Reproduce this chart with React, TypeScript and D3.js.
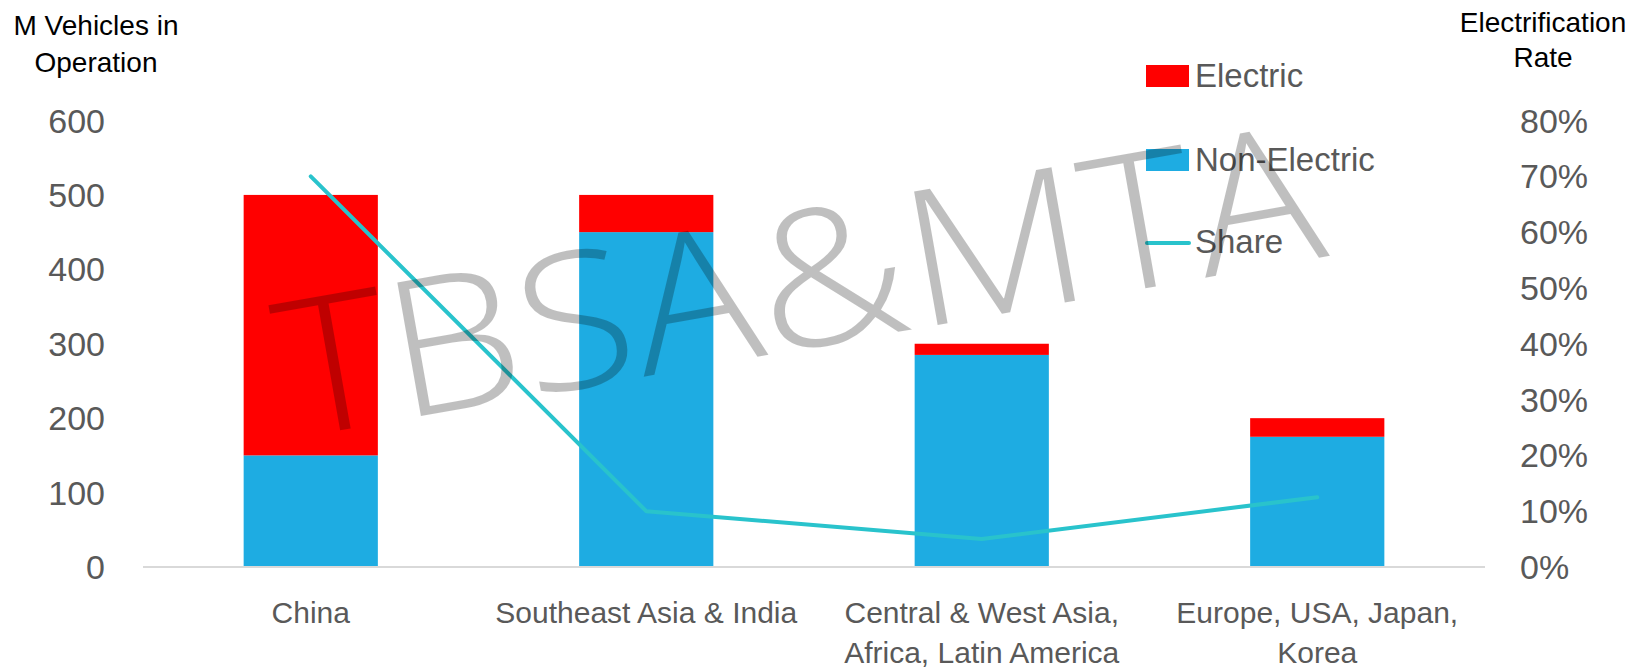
import React from 'react';
import * as d3 from 'd3';

// values
const categories = ['China', 'Southeast Asia & India', 'Central & West Asia, Africa, Latin America', 'Europe, USA, Japan, Korea'];
const categoryLines = [['China'], ['Southeast Asia & India'], ['Central & West Asia,', 'Africa, Latin America'], ['Europe, USA, Japan,', 'Korea']];
const nonElectric = [150, 450, 285, 175];
const electric = [350, 50, 15, 25];
const share = [0.70, 0.10, 0.05, 0.125];
const leftTicks = [0, 100, 200, 300, 400, 500, 600];
const rightTicks = [0, 0.1, 0.2, 0.3, 0.4, 0.5, 0.6, 0.7, 0.8];

const W = 1640;
const H = 670;
const FONT = "'Liberation Sans', Arial, sans-serif";
const RED = '#FF0000';
const BLUE = '#1EACE2';
const TEAL = '#29C3CC';
const GREY_TEXT = '#595959';

const plot = { left: 143, right: 1485, top: 120.5, bottom: 567 };

const App = () => {
    const x = d3.scaleBand<string>()
        .domain(categories)
        .range([plot.left, plot.right])
        .paddingInner(0.6)
        .paddingOuter(0.3);

    const yLeft = d3.scaleLinear().domain([0, 600]).range([plot.bottom, plot.top]);
    const yRight = d3.scaleLinear().domain([0, 0.8]).range([plot.bottom, plot.top]);

    // stacked table built from the arrays above
    const table = categories.map((c, i) => ({ category: c, nonElectric: nonElectric[i], electric: electric[i] }));
    const stacked = d3.stack<any>().keys(['nonElectric', 'electric'])(table);
    const colors: Record<string, string> = { nonElectric: BLUE, electric: RED };

    const line = d3.line<number>()
        .x((_, i) => (x(categories[i]) as number) + x.bandwidth() / 2)
        .y(d => yRight(d));

    const fmtPct = d3.format('.0%');

    return (
        <svg width={W} height={H} style={{ position: 'absolute', left: 0, top: 0, background: '#fff' }} fontFamily={FONT}>
            {/* axis titles */}
            <text x={96} y={35} fontSize={28} textAnchor="middle" fill="#000">M Vehicles in</text>
            <text x={96} y={72} fontSize={28} textAnchor="middle" fill="#000">Operation</text>
            <text x={1543} y={32} fontSize={28} textAnchor="middle" fill="#000">Electrification</text>
            <text x={1543} y={67} fontSize={28} textAnchor="middle" fill="#000">Rate</text>

            {/* left ticks */}
            {leftTicks.map(t => (
                <text key={'l' + t} x={105} y={yLeft(t) + 12} fontSize={34} textAnchor="end" fill={GREY_TEXT}>{t}</text>
            ))}
            {/* right ticks */}
            {rightTicks.map(t => (
                <text key={'r' + t} x={1520} y={yRight(t) + 12} fontSize={34} textAnchor="start" fill={GREY_TEXT}>{fmtPct(t)}</text>
            ))}

            {/* bars */}
            {stacked.map(layer => (
                <g key={layer.key} fill={colors[layer.key]}>
                    {layer.map((d, i) => (
                        <rect
                            key={i}
                            x={x(categories[i])}
                            y={yLeft(d[1])}
                            width={x.bandwidth()}
                            height={yLeft(d[0]) - yLeft(d[1])}
                        />
                    ))}
                </g>
            ))}

            {/* category axis */}
            <line x1={plot.left} x2={plot.right} y1={plot.bottom} y2={plot.bottom} stroke="#D9D9D9" strokeWidth={2} />
            {categoryLines.map((lines, i) => (
                <text key={i} fontSize={30} textAnchor="middle" fill={GREY_TEXT}>
                    {lines.map((ln, j) => (
                        <tspan key={j} x={(x(categories[i]) as number) + x.bandwidth() / 2} y={623 + j * 40}>{ln}</tspan>
                    ))}
                </text>
            ))}

            {/* share line */}
            <path d={line(share) || ''} fill="none" stroke={TEAL} strokeWidth={4} strokeLinejoin="round" strokeLinecap="round" />

            {/* legend */}
            <rect x={1146} y={65} width={43} height={22} fill={RED} />
            <text x={1195} y={87} fontSize={33} fill={GREY_TEXT}>Electric</text>
            <rect x={1146} y={149} width={43} height={22} fill={BLUE} />
            <text x={1195} y={171} fontSize={33} fill={GREY_TEXT}>Non-Electric</text>
            <line x1={1147} x2={1189} y1={243} y2={243} stroke={TEAL} strokeWidth={4} strokeLinecap="round" />
            <text x={1195} y={253} fontSize={33} fill={GREY_TEXT}>Share</text>

            {/* watermark */}
            <text
                transform="translate(291,439) rotate(-10)"
                fontFamily="'Open Sans', 'Liberation Sans', sans-serif"
                fontWeight={300}
                fontSize={190}
                textLength={1055}
                lengthAdjust="spacingAndGlyphs"
                fill="#000"
                fillOpacity={0.25}
            >TBSA&amp;MTA</text>
        </svg>
    );
};

export default App;
